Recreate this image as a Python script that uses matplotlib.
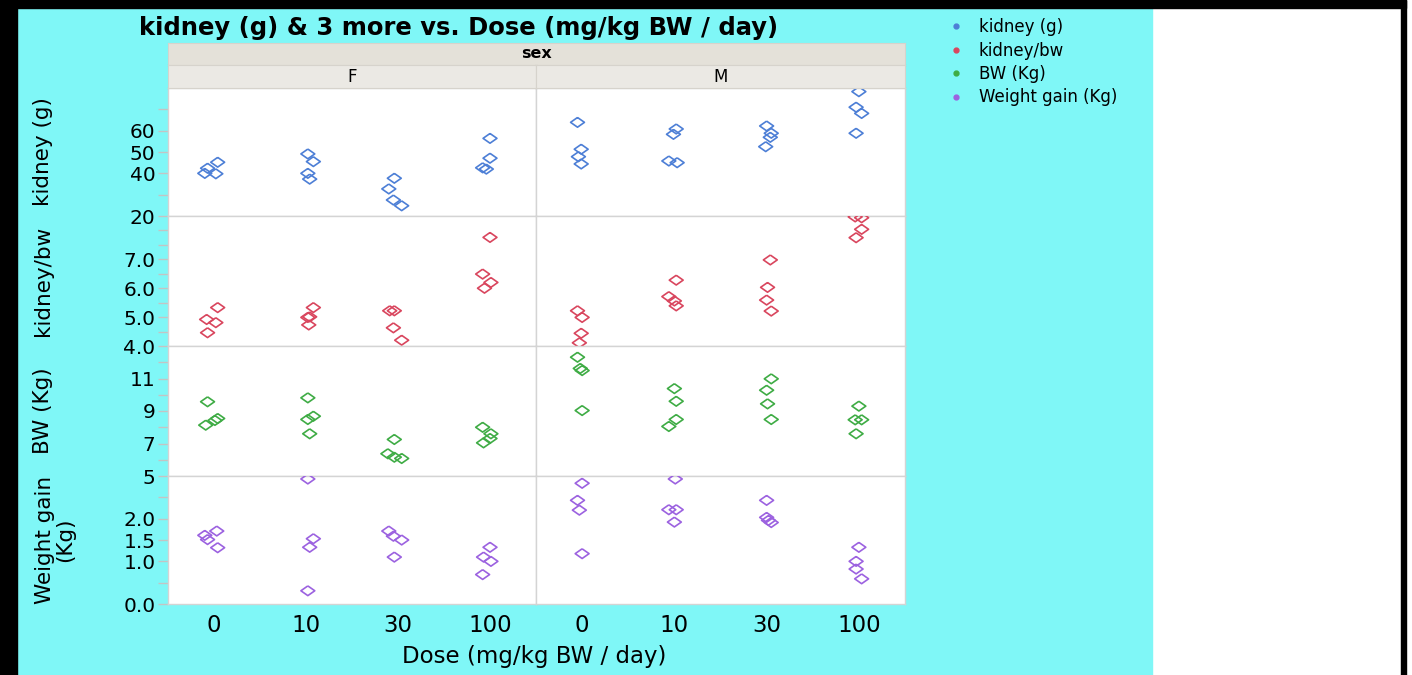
import matplotlib
matplotlib.use("Agg")
import matplotlib.pyplot as plt
from matplotlib.lines import Line2D
from matplotlib.patches import Rectangle
from matplotlib.ticker import FixedLocator, FixedFormatter

W, H = 1412, 675

sexes = ["F", "M"]
doses = ["0", "10", "30", "100"]
measures = ["kidney (g)", "kidney/bw", "BW (Kg)", "Weight gain (Kg)"]
measure_labels = ["kidney (g)", "kidney/bw", "BW (Kg)", "Weight gain\n(Kg)"]
colors = ["#4d7fd6", "#d9465e", "#3fac45", "#9c62e0"]

# values per dose group (0, 10, 30, 100)
kidney_g_F = [[40.0, 42.4, 45.2, 39.8], [49.1, 45.5, 40.0, 37.3],
              [37.7, 32.7, 27.5, 24.8], [56.4, 47.1, 42.6, 42.0]]
kidney_g_M = [[63.9, 51.3, 47.8, 44.4], [60.8, 58.3, 45.8, 45.0],
              [62.2, 58.8, 56.9, 52.5], [78.3, 71.0, 68.1, 58.8]]
kidney_bw_F = [[5.33, 4.92, 4.81, 4.46], [5.33, 5.01, 4.99, 4.73],
               [5.22, 5.22, 4.63, 4.20], [7.76, 6.49, 6.20, 6.00]]
kidney_bw_M = [[5.22, 4.99, 4.44, 4.11], [6.28, 5.71, 5.56, 5.39],
               [6.98, 6.03, 5.59, 5.21], [8.47, 8.44, 8.04, 7.75]]
bw_F = [[9.57, 8.13, 8.42, 8.54], [9.81, 8.48, 8.68, 7.60],
        [7.25, 6.37, 6.16, 6.08], [8.00, 7.60, 7.31, 7.04]]
bw_M = [[12.31, 11.62, 11.49, 9.03], [10.38, 9.60, 8.48, 8.05],
        [10.98, 10.28, 9.44, 8.48], [9.30, 8.46, 8.46, 7.60]]
gain_F = [[1.61, 1.51, 1.71, 1.32], [2.93, 1.53, 1.33, 0.31],
          [1.71, 1.59, 1.50, 1.10], [1.33, 1.10, 1.00, 0.69]]
gain_M = [[2.83, 2.43, 2.20, 1.18], [2.93, 2.21, 2.21, 1.92],
          [2.43, 2.03, 1.96, 1.91], [1.33, 1.00, 0.82, 0.59]]

# horizontal jitter of each point (fraction of a dose slot)
jit_kidney_g_F = [[-0.10, -0.07, 0.04, 0.02], [0.02, 0.08, 0.02, 0.04],
                  [-0.04, -0.10, -0.05, 0.04], [0.0, 0.0, -0.08, -0.04]]
jit_kidney_g_M = [[-0.05, -0.01, -0.04, -0.01], [0.02, -0.01, -0.06, 0.03],
                  [0.0, 0.05, 0.04, -0.01], [0.0, -0.03, 0.03, -0.03]]
jit_kidney_bw_F = [[0.04, -0.08, 0.02, -0.07], [0.08, 0.04, 0.02, 0.03],
                   [-0.09, -0.04, -0.05, 0.04], [0.0, -0.08, 0.01, -0.06]]
jit_kidney_bw_M = [[-0.05, 0.0, -0.01, -0.03], [0.02, -0.06, 0.0, 0.02],
                   [0.04, 0.01, 0.0, 0.05], [-0.04, 0.03, 0.03, -0.03]]
jit_bw_F = [[-0.07, -0.09, 0.01, 0.04], [0.02, 0.02, 0.08, 0.04],
            [-0.04, -0.11, -0.04, 0.04], [-0.08, 0.01, 0.0, -0.07]]
jit_bw_M = [[-0.05, -0.02, 0.0, 0.0], [0.0, 0.02, 0.02, -0.06],
            [0.05, 0.0, 0.01, 0.05], [0.0, -0.04, 0.03, -0.03]]
jit_gain_F = [[-0.10, -0.07, 0.03, 0.04], [0.02, 0.08, 0.04, 0.02],
              [-0.10, -0.05, 0.04, -0.04], [0.0, -0.07, 0.01, -0.08]]
jit_gain_M = [[0.0, -0.05, -0.03, 0.0], [0.01, -0.06, 0.02, 0.0],
              [0.0, 0.0, 0.02, 0.05], [0.0, -0.03, -0.03, 0.03]]

row_limits = [(20, 80), (4.0, 8.5), (5, 13), (0.0, 3.0)]
row_ticks = [[20, 30, 40, 50, 60, 70],
             [4.0, 4.5, 5.0, 5.5, 6.0, 6.5, 7.0, 7.5, 8.0],
             [5, 6, 7, 8, 9, 10, 11, 12],
             [0.0, 0.5, 1.0, 1.5, 2.0, 2.5]]
row_ticklabels = [["20", "", "40", "50", "60", ""],
                  ["4.0", "", "5.0", "", "6.0", "", "7.0", "", ""],
                  ["5", "", "7", "", "9", "", "11", ""],
                  ["0.0", "", "1.0", "1.5", "2.0", ""]]

values = [[kidney_g_F, kidney_g_M], [kidney_bw_F, kidney_bw_M],
          [bw_F, bw_M], [gain_F, gain_M]]
jitters = [[jit_kidney_g_F, jit_kidney_g_M], [jit_kidney_bw_F, jit_kidney_bw_M],
           [jit_bw_F, jit_bw_M], [jit_gain_F, jit_gain_M]]

diamond = [(0, 0.7), (1, 0), (0, -0.7), (-1, 0), (0, 0.7)]


def fx(px):
    return px / W


def fy(py):
    return 1 - py / H


def main() -> None:
    plt.rcParams["font.family"] = ["DejaVu Sans"]
    fig = plt.figure(figsize=(W / 100, H / 100), dpi=100)
    fig.patch.set_facecolor("white")

    # frame and background bands
    fig.patches.append(Rectangle((fx(17), 0), fx(1152) - fx(17), fy(8),
                                 transform=fig.transFigure, color="#7ff7f7", zorder=-5))
    fig.patches.append(Rectangle((0, 0), fx(17), 1, transform=fig.transFigure,
                                 color="black", zorder=-4))
    fig.patches.append(Rectangle((0, fy(8)), fx(1406), 1 - fy(8),
                                 transform=fig.transFigure, color="black", zorder=-4))
    fig.patches.append(Rectangle((fx(1401), 0), fx(5), 1, transform=fig.transFigure,
                                 color="black", zorder=-4))

    col_edges = [168, 536, 905]
    row_edges = [88, 216, 346, 476, 604]
    spine_color = "#d4d4d4"

    for r in range(4):
        for c in range(2):
            ax = fig.add_axes([fx(col_edges[c]), fy(row_edges[r + 1]),
                               (col_edges[c + 1] - col_edges[c]) / W,
                               (row_edges[r + 1] - row_edges[r]) / H])
            ax.set_facecolor("white")
            for sp in ax.spines.values():
                sp.set_color(spine_color)
                sp.set_linewidth(1.0)
            for d in range(len(doses)):
                ys = values[r][c][d]
                xs = [d + j for j in jitters[r][c][d]]
                ax.scatter(xs, ys, marker=diamond, s=100, facecolors="none",
                           edgecolors=colors[r], linewidths=1.2, zorder=3)
            ax.set_xlim(-0.5, 3.5)
            ax.set_ylim(*row_limits[r])
            ax.set_xticks(range(len(doses)))
            if r == 3:
                ax.set_xticklabels(doses, fontsize=16.5)
                ax.tick_params(axis="x", length=0, pad=7)
            else:
                ax.set_xticklabels([])
                ax.tick_params(axis="x", length=0)
            if c == 0:
                ax.yaxis.set_major_locator(FixedLocator(row_ticks[r]))
                ax.yaxis.set_major_formatter(FixedFormatter(row_ticklabels[r]))
                ax.tick_params(axis="y", length=7, width=1, color="#c4c4c4",
                               labelsize=14.5, pad=2)
            else:
                ax.set_yticks([])

    # strip headers
    ax_sex = fig.add_axes([fx(168), fy(65), (905 - 168) / W, 22 / H])
    ax_sex.set_facecolor("#e4e1d9")
    ax_sex.text(0.5, 0.5, "sex", ha="center", va="center", fontsize=11.5,
                fontweight="bold", transform=ax_sex.transAxes)
    panels = [ax_sex]
    for c, s in enumerate(sexes):
        ax_s = fig.add_axes([fx(col_edges[c]), fy(88),
                             (col_edges[c + 1] - col_edges[c]) / W, 23 / H])
        ax_s.set_facecolor("#ebe9e4")
        ax_s.text(0.5, 0.5, s, ha="center", va="center", fontsize=12,
                  transform=ax_s.transAxes)
        panels.append(ax_s)
    for ax_s in panels:
        ax_s.set_xticks([])
        ax_s.set_yticks([])
        for sp in ax_s.spines.values():
            sp.set_color("#d6d3cc")
            sp.set_linewidth(0.8)

    # row labels
    for r, lab in enumerate(measure_labels):
        y_mid = (row_edges[r] + row_edges[r + 1]) / 2
        x_mid = 55 if "\n" in lab else 43
        fig.text(fx(x_mid), fy(y_mid), lab, rotation=90, ha="center", va="center",
                 fontsize=15.5, linespacing=1.05)

    fig.text(fx(459), fy(28), "kidney (g) & 3 more vs. Dose (mg/kg BW / day)",
             ha="center", va="center", fontsize=17.5, fontweight="bold")
    fig.text(fx(534), fy(657), "Dose (mg/kg BW / day)", ha="center", va="center",
             fontsize=16.5)

    handles = [Line2D([], [], marker="o", linestyle="", color=col, markersize=3.5)
               for col in colors]
    fig.legend(handles, measures, loc="upper left",
               bbox_to_anchor=(fx(949), fy(18)), frameon=False, fontsize=12,
               handlelength=0.8, handletextpad=1.0, labelspacing=0.33,
               borderaxespad=0, borderpad=0)

    fig.savefig("out.png", dpi=100)
    plt.close(fig)


if __name__ == "__main__":
    main()
